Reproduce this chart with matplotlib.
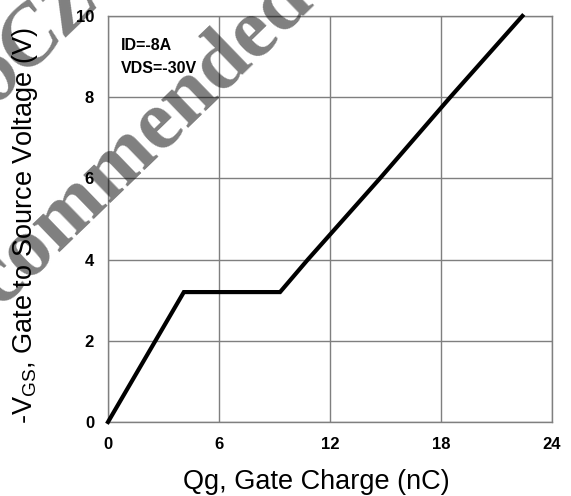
import matplotlib
matplotlib.use("Agg")
import matplotlib.pyplot as plt
from matplotlib import font_manager

# Data
qg_nc = [0.0, 4.1, 9.3, 10.8, 14.7, 18.5, 22.4]
vgs_v = [0.0, 3.2, 3.2, 4.0, 6.0, 8.0, 10.0]
x_ticks = [0, 6, 12, 18, 24]
y_ticks = [0, 2, 4, 6, 8, 10]
notes = ["ID=-8A", "VDS=-30V"]

fonts = {f.name for f in font_manager.fontManager.ttflist}
narrow = "Liberation Sans Narrow" if "Liberation Sans Narrow" in fonts else "Liberation Sans"

W, H = 571, 496
fig = plt.figure(figsize=(W / 100, H / 100), dpi=100)
ax = fig.add_axes([108 / W, 1 - 422 / H, (552 - 108) / W, (422 - 16) / H])

ax.plot(qg_nc, vgs_v, color="black", lw=3.0, solid_joinstyle="miter", zorder=3, clip_on=False)
ax.set_xlim(0, 24)
ax.set_ylim(0, 10)
ax.set_xticks(x_ticks)
ax.set_yticks(y_ticks)
ax.grid(True, color="#7f7f7f", lw=1.0)
for s in ax.spines.values():
    s.set_color("#7f7f7f")
    s.set_linewidth(1.0)
ax.tick_params(axis="x", length=0, pad=10.5)
ax.tick_params(axis="y", length=0, pad=10)
for lab in ax.get_xticklabels() + ax.get_yticklabels():
    lab.set_fontfamily(narrow)
    lab.set_fontweight("bold")
    lab.set_fontsize(12)

ax.text(0.029, 0.927, notes[0], transform=ax.transAxes, family=narrow,
        fontweight="bold", fontsize=11.5, va="center", ha="left")
ax.text(0.029, 0.871, notes[1], transform=ax.transAxes, family=narrow,
        fontweight="bold", fontsize=11.5, va="center", ha="left")

fig.text(316 / W, 1 - 489 / H, "Qg, Gate Charge (nC)", family="Liberation Sans",
         fontsize=19.5, ha="center", va="baseline")
fig.text(25 / W, 1 - 226 / H, r"-V$_{\mathregular{GS}}$, Gate to Source Voltage (V)",
         family="Liberation Sans", fontsize=19.5, rotation=90, ha="center", va="center")

# Watermark
wm = dict(family="Liberation Serif", fontweight="bold", color="black", alpha=0.5,
          rotation=44, rotation_mode="anchor", ha="center", va="baseline", fontsize=61, zorder=5)
fig.text(123 / W, 1 - 190 / H, "Recommended", **wm)
fig.text(50 / W, 1 - 53 / H, "oCZ", style="italic", **wm)

fig.savefig("out.png", dpi=100)
